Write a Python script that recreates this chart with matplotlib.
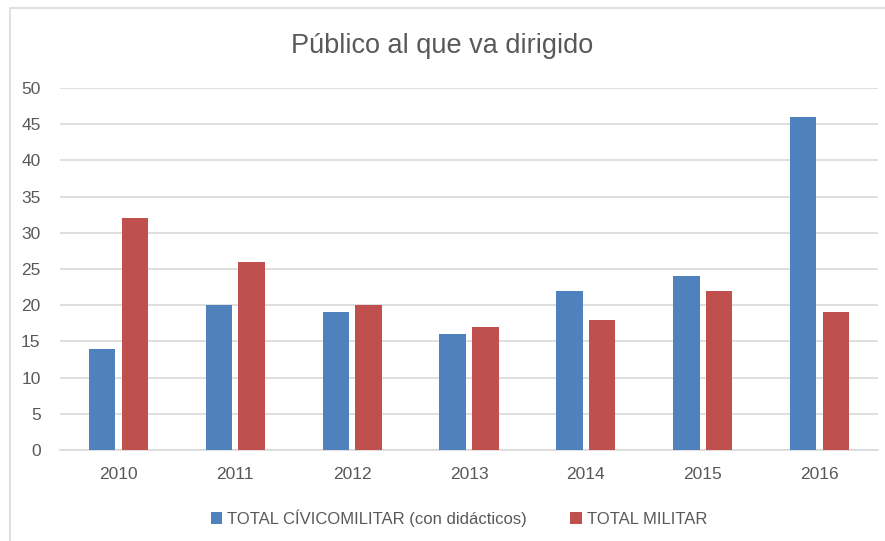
import matplotlib.pyplot as plt
import numpy as np
from matplotlib.patches import Rectangle

plt.rcParams['font.family'] = ['Liberation Sans Narrow', 'Liberation Sans', 'DejaVu Sans']

years = ['2010', '2011', '2012', '2013', '2014', '2015', '2016']
civicomilitar = [14, 20, 19, 16, 22, 24, 46]
militar = [32, 26, 20, 17, 18, 22, 19]

text_color = '#595959'
blue = '#4F81BD'
red = '#C0504D'

fig = plt.figure(figsize=(8.85, 5.41), dpi=100)
ax = fig.add_axes([60 / 885, 1 - 450 / 541, 818 / 885, 362 / 541])

# chart frame (cropped on the right/bottom like the original)
fig.patches.append(Rectangle((10 / 885, -0.1), 1.2, 1 - 8 / 541 + 0.1,
                             transform=fig.transFigure, fill=False,
                             edgecolor='#D9D9D9', linewidth=1.2))

x = np.arange(len(years))
w = 0.225
ax.bar(x - 0.14, civicomilitar, w, color=blue, label='TOTAL CÍVICOMILITAR (con didácticos)', zorder=3)
ax.bar(x + 0.14, militar, w, color=red, label='TOTAL MILITAR', zorder=3)

ax.set_xlim(-0.5, len(years) - 0.5)
ax.set_ylim(0, 50)
ax.set_yticks(range(0, 51, 5))
ax.set_xticks(x)
ax.set_xticklabels(years)
ax.yaxis.grid(True, color='#D9D9D9', linewidth=1.2, zorder=0)
for s in ['top', 'right', 'left']:
    ax.spines[s].set_visible(False)
ax.spines['bottom'].set_color('#D9D9D9')
ax.spines['bottom'].set_linewidth(1.2)
ax.tick_params(axis='both', length=0, colors=text_color, labelsize=12.5)
ax.tick_params(axis='x', pad=12)
ax.tick_params(axis='y', pad=14)

fig.text(0.5, 1 - 46 / 541, 'Público al que va dirigido', ha='center', va='center',
         fontsize=19.5, color=text_color)

fig.legend(loc='center', bbox_to_anchor=(459 / 885, 1 - 518 / 541), ncol=2, frameon=False,
           fontsize=12, labelcolor=text_color, handlelength=0.7, handleheight=0.7,
           handletextpad=0.3, columnspacing=2.6)

fig.savefig('out.png', dpi=100)
